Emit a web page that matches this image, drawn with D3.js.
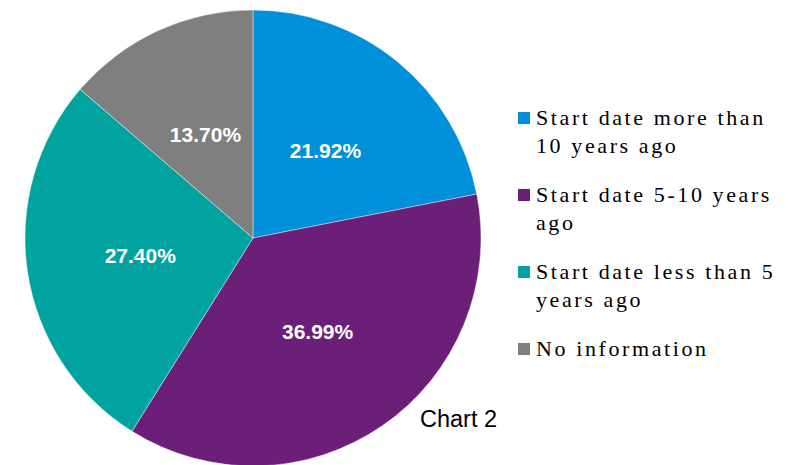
<!DOCTYPE html>
<html><head><meta charset="utf-8">
<script src="https://cdn.jsdelivr.net/npm/d3@7"></script>
<style>html,body{margin:0;padding:0;background:#fff;}</style>
</head><body>
<svg id="chart" width="805" height="465"></svg>
<script>
const categories = ["Start date more than 10 years ago","Start date 5-10 years ago","Start date less than 5 years ago","No information"];
const legendLines = [["Start date more than","10 years ago"],["Start date 5-10 years","ago"],["Start date less than 5","years ago"],["No information"]];
const values = [21.92, 36.99, 27.40, 13.70];
const labels = ["21.92%","36.99%","27.40%","13.70%"];
const colors = ["#0090DA","#6B1F78","#00A39F","#7F7F7F"];
const title = "Chart 2";

const svg = d3.select("#chart");
const cx = 253, cy = 238, R = 228;
const g = svg.append("g").attr("transform", `translate(${cx},${cy})`);
const pie = d3.pie().sort(null).value(d => d);
const arc = d3.arc().innerRadius(0).outerRadius(R);
const arcs = pie(values);
g.selectAll("path").data(arcs).enter().append("path")
  .attr("d", arc).attr("fill", (d,i) => colors[i])
  .attr("stroke", "#fff").attr("stroke-width", 0.6).attr("stroke-opacity", 0.7);
g.selectAll("text").data(arcs).enter().append("text")
  .attr("transform", d => `translate(${arc.centroid(d)})`)
  .attr("text-anchor","middle").attr("dy","0.36em")
  .style("font-family","'Liberation Sans', Arial, sans-serif")
  .style("font-weight","bold").style("font-size","21px").attr("fill","#fff")
  .text((d,i) => labels[i]);

const legend = svg.append("g");
const ly0 = 125, lineH = 28, entryGap = 21;
let y = ly0;
legendLines.forEach((lines, i) => {
  legend.append("rect").attr("x", 518).attr("y", y - 13).attr("width", 12).attr("height", 12).attr("fill", colors[i]);
  lines.forEach((t, j) => {
    legend.append("text").attr("x", 536).attr("y", y + j*lineH)
      .style("font-family","'Liberation Serif', 'Times New Roman', serif")
      .style("font-size","22px").style("letter-spacing","2.6px").attr("fill","#000")
      .text(t);
  });
  y += lines.length*lineH + entryGap;
});

svg.append("text").attr("x", 420).attr("y", 427)
  .style("font-family","'Liberation Sans', Arial, sans-serif")
  .style("font-size","23.5px").attr("fill","#000").text(title);
</script>
</body></html>
